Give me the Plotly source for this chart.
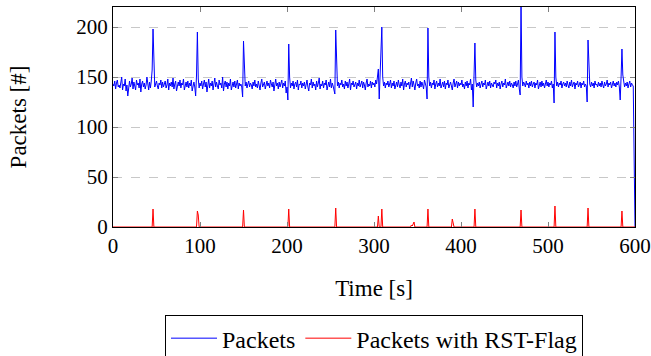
import plotly.graph_objects as go

# Blue series: packets per second, t = 0..600
packets = [
    143,141,146,138,144,147,140,142,139,145,150,137,143,141,148,136,142,131,144,146,
    140,143,149,138,145,141,137,147,142,144,139,148,135,143,146,140,144,138,142,150,
    141,137,145,139,146,157,198,152,140,143,146,141,138,144,142,147,139,145,140,143,
    146,139,142,148,137,144,141,145,140,149,138,143,146,136,142,145,141,147,139,144,
    142,148,137,143,145,140,146,139,144,141,147,136,143,145,140,131,152,195,148,139,
    144,141,146,138,143,147,140,145,135,142,148,139,144,141,146,137,143,149,140,145,
    141,138,147,142,144,139,150,136,143,146,140,145,138,144,141,148,137,143,145,140,
    146,139,142,147,138,144,141,143,140,130,186,148,141,145,139,143,146,140,144,142,
    138,145,141,147,140,143,139,146,142,137,144,148,140,143,145,138,142,146,141,144,
    139,147,143,140,145,136,142,148,141,144,138,145,140,143,147,139,144,141,146,134,
    140,127,183,150,139,144,141,146,138,143,145,140,147,137,143,142,146,139,144,141,
    145,138,143,147,140,136,144,142,148,139,145,141,143,137,146,140,144,149,138,143,
    141,146,139,144,142,147,137,143,145,140,148,139,144,141,136,133,197,150,141,145,
    139,144,142,147,140,143,138,146,141,145,139,143,148,137,144,142,146,140,143,145,
    138,144,141,147,140,143,146,139,145,142,137,144,148,140,143,141,146,139,145,142,
    144,140,147,143,150,158,128,150,165,200,150,141,145,139,144,142,146,140,143,147,
    139,144,141,146,138,143,145,140,147,142,139,145,141,148,137,143,146,140,144,142,
    145,138,143,149,140,146,142,137,144,148,141,143,139,146,140,145,142,138,147,143,
    140,128,199,150,141,145,139,144,142,147,138,143,146,140,144,141,148,139,143,145,
    140,146,138,144,142,147,139,143,145,141,137,144,148,140,143,146,139,145,141,144,
    142,147,140,143,138,145,141,146,139,144,142,148,137,143,120,150,184,147,140,144,
    141,145,139,143,146,140,144,142,147,138,143,145,141,146,139,144,142,140,145,143,
    147,139,144,141,145,138,143,146,140,144,142,148,139,143,145,141,146,140,144,142,
    139,145,141,146,140,143,147,138,132,225,150,141,145,143,140,146,142,144,139,145,
    141,146,140,143,145,139,144,142,147,138,143,145,140,146,141,144,139,143,147,141,
    145,140,144,142,146,139,143,124,195,150,141,145,140,144,142,146,139,143,145,141,
    144,140,146,142,139,145,141,147,140,143,145,138,144,142,146,140,143,145,139,144,
    142,146,140,143,141,125,187,152,143,140,145,141,144,139,146,142,143,140,145,141,
    144,140,146,142,139,145,141,143,147,140,144,142,145,139,143,146,141,144,140,145,
    142,146,140,127,150,178,152,146,140,144,141,145,139,143,146,140,144,142,141,70,
    0,
]
time_s = list(range(len(packets)))

# Red series: packets with RST flag (zero except at the listed points)
rst_time = [0, 45, 46, 47, 96, 97, 98, 99, 149, 150, 151, 201, 202, 203,
            255, 256, 257, 304, 305, 306, 308, 309, 310,
            342, 343, 344, 345, 346, 347, 361, 362, 363, 389, 390, 391, 392,
            415, 416, 417, 468, 469, 470, 507, 508, 509, 545, 546, 547,
            584, 585, 586, 600]
rst_packets = [0, 0, 18, 0, 0, 16, 12, 0, 0, 17, 0, 0, 18, 0,
               0, 19, 0, 0, 11, 0, 0, 18, 0,
               0, 2, 1, 3, 5, 0, 0, 18, 0, 0, 8, 4, 0,
               0, 18, 0, 0, 17, 0, 0, 21, 0, 0, 19, 0,
               0, 16, 0, 0]

x_ticks = [0, 100, 200, 300, 400, 500, 600]
y_ticks = [0, 50, 100, 150, 200]

FONT = "Liberation Serif"

fig = go.Figure()
fig.add_trace(go.Scatter(x=time_s, y=packets, mode="lines", name="Packets",
                         line=dict(color="#0000ff", width=1)))
fig.add_trace(go.Scatter(x=rst_time, y=rst_packets, mode="lines",
                         name="Packets with RST-Flag",
                         line=dict(color="#ff0000", width=1)))

fig.update_layout(
    width=651, height=356,
    margin=dict(l=113, r=16, t=7, b=129),
    paper_bgcolor="white", plot_bgcolor="white",
    font=dict(family=FONT, size=21, color="black"),
    showlegend=True,
    legend=dict(orientation="h", x=0.5, xanchor="center",
                yref="container", y=0.115, yanchor="top",
                bordercolor="black", borderwidth=1, bgcolor="white",
                font=dict(family=FONT, size=24), itemwidth=46,
                tracegroupgap=0),
    xaxis=dict(range=[0, 600], tickvals=x_ticks, ticks="inside", ticklen=5,
               tickcolor="#808080", showgrid=False, zeroline=False,
               tickfont=dict(family=FONT, size=21),
               showline=True, linecolor="black", linewidth=1, mirror="ticks",
               title=dict(text="Time [s]", standoff=22,
                          font=dict(family=FONT, size=23)),
               automargin=False),
    yaxis=dict(range=[0, 220], tickvals=y_ticks, ticks="inside", ticklen=5,
               tickcolor="#808080", showgrid=True, gridcolor="#c8c8c8",
               griddash="dash", zeroline=False,
               tickfont=dict(family=FONT, size=21),
               showline=True, linecolor="black", linewidth=1, mirror="ticks",
               title=dict(text="Packets [#]", standoff=43,
                          font=dict(family=FONT, size=23)),
               automargin=False),
)

fig.write_html("out.html", config={"displayModeBar": False},
               post_script="document.body.style.margin='0';")
